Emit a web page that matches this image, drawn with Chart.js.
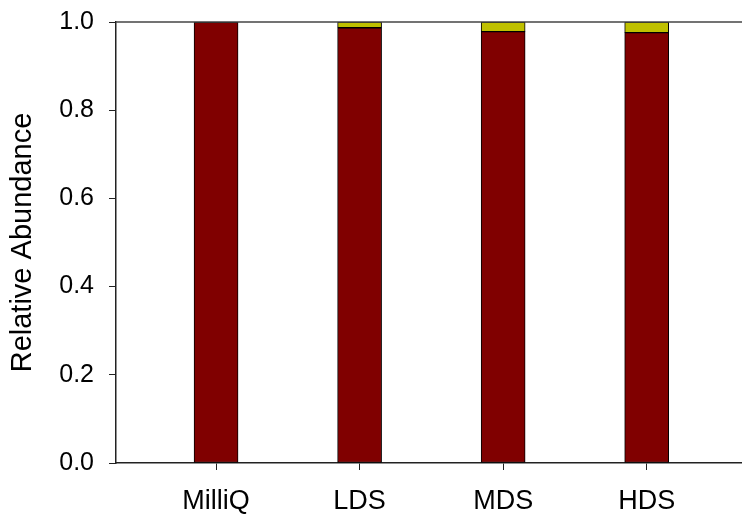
<!DOCTYPE html>
<html>
<head>
<meta charset="utf-8">
<script src="https://cdn.jsdelivr.net/npm/chart.js@4"></script>
<style>
  html, body { margin: 0; padding: 0; background: #fff; }
  #wrap { width: 742px; height: 517px; }
</style>
</head>
<body>
<div id="wrap"><canvas id="grafico"></canvas></div>
<script>
// datos
const muestras = ['MilliQ', 'LDS', 'MDS', 'HDS'];
const posiciones = [1, 2, 3, 4];
const grupoRojo = [0.999, 0.987, 0.978, 0.976];
const grupoAmarillo = [0.001, 0.013, 0.022, 0.024];
const ticksY = [0, 0.2, 0.4, 0.6, 0.8, 1.0];

// linea superior del marco
const lineaSuperior = {
  id: 'lineaSuperior',
  afterDraw(chart) {
    const { ctx, chartArea } = chart;
    ctx.save();
    ctx.strokeStyle = '#444';
    ctx.lineWidth = 1.5;
    ctx.beginPath();
    ctx.moveTo(chartArea.left, chartArea.top);
    ctx.lineTo(chartArea.right, chartArea.top);
    ctx.stroke();
    ctx.restore();
  }
};

const ctx = document.getElementById('grafico').getContext('2d');
new Chart(ctx, {
  type: 'bar',
  data: {
    datasets: [
      {
        label: 'rojo',
        data: posiciones.map((x, i) => ({ x: x, y: grupoRojo[i] })),
        backgroundColor: '#800000',
        borderColor: '#000',
        borderWidth: 1,
        borderSkipped: false,
        barThickness: 44
      },
      {
        label: 'amarillo',
        data: posiciones.map((x, i) => ({ x: x, y: grupoAmarillo[i] })),
        backgroundColor: '#bfc000',
        borderColor: '#000',
        borderWidth: 1,
        borderSkipped: false,
        barThickness: 44
      }
    ]
  },
  options: {
    responsive: true,
    maintainAspectRatio: false,
    animation: false,
    layout: { padding: { top: 22, right: 0, left: 0, bottom: 0 } },
    plugins: {
      legend: { display: false },
      tooltip: { enabled: false }
    },
    scales: {
      x: {
        type: 'linear',
        stacked: true,
        offset: false,
        min: 0.303,
        max: 4.664,
        afterBuildTicks: (scale) => { scale.ticks = posiciones.map(v => ({ value: v })); },
        afterFit: (scale) => {
          scale.height = 54;
          scale.paddingLeft = 0;
          scale.paddingRight = 0;
        },
        border: { display: true, color: '#222', width: 1.5 },
        grid: { offset: false, drawOnChartArea: false, tickLength: 7, color: '#222' },
        ticks: {
          padding: 15,
          color: '#000',
          font: { family: 'Liberation Sans, Arial', size: 27 },
          callback: (v) => muestras[posiciones.indexOf(v)] || ''
        }
      },
      y: {
        stacked: true,
        min: 0,
        max: 1,
        afterBuildTicks: (scale) => { scale.ticks = ticksY.map(v => ({ value: v })); },
        afterFit: (scale) => {
          scale.width = 116;
          scale.paddingTop = 0;
          scale.paddingBottom = 0;
        },
        border: { display: true, color: '#222', width: 1.5 },
        grid: { drawOnChartArea: false, tickLength: 7, color: '#222' },
        ticks: {
          padding: 15,
          color: '#000',
          font: { family: 'Liberation Sans, Arial', size: 25 },
          callback: (v) => v.toFixed(1)
        },
        title: {
          display: true,
          text: 'Relative Abundance',
          color: '#000',
          font: { family: 'Liberation Sans, Arial', size: 29 },
          padding: { top: 6, bottom: 0 }
        }
      }
    }
  },
  plugins: [lineaSuperior]
});
</script>
</body>
</html>
